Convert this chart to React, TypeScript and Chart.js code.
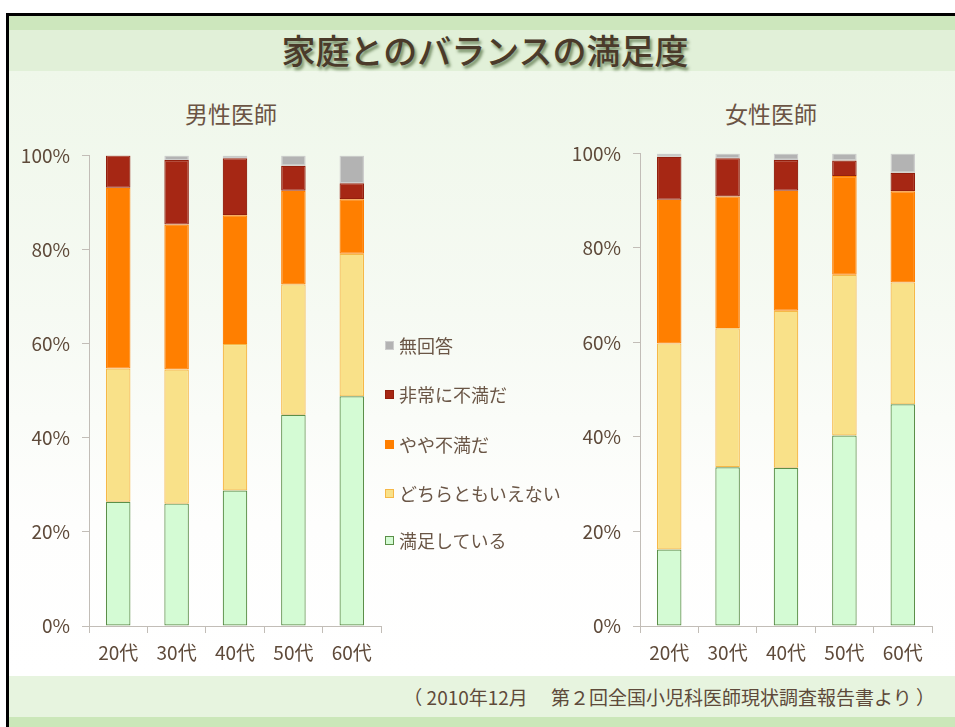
import React, { useEffect, useRef } from "react";
import { Chart, registerables } from "chart.js";

Chart.register(...registerables);

const ageLabels = ["20代", "30代", "40代", "50代", "60代"];
const seriesNames = ["満足している", "どちらともいえない", "やや不満だ", "非常に不満だ", "無回答"];
const yTickValues = [0, 20, 40, 60, 80, 100];

const maleSatisfied = [26.4, 26.0, 28.8, 44.9, 48.8];
const maleNeutral = [28.3, 28.5, 31.1, 27.7, 30.3];
const maleSomewhat = [38.4, 30.8, 27.4, 19.9, 11.6];
const maleVery = [6.9, 13.7, 12.1, 5.3, 3.4];
const maleNoAnswer = [0, 1.0, 0.6, 2.2, 5.9];

const femaleSatisfied = [16.2, 33.6, 33.5, 40.3, 46.9];
const femaleNeutral = [43.6, 29.4, 33.2, 34.0, 25.8];
const femaleSomewhat = [30.4, 27.9, 25.4, 20.9, 19.3];
const femaleVery = [9.1, 8.1, 6.5, 3.3, 3.9];
const femaleNoAnswer = [0.7, 1.0, 1.4, 1.5, 4.1];

const fills = ["#d4fbd4", "#f9e189", "#ff7f00", "#a62714", "#b3b3b3"];
const borders = ["#5b8f48", "#f6b847", "#ff7f00", "#931f0d", "#cdcdcd"];

const FONT = "'Noto Sans CJK JP', 'Noto Sans', sans-serif";
const TEXT = "#5e4a3a";
const AXIS = "#c2bdb7";

type ChartProps = {
  left: number;
  top: number;
  width: number;
  height: number;
  yWidth: number;
  xHeight: number;
  padTop: number;
  padRight: number;
  series: number[][];
};

function StackedChart(props: ChartProps) {
  const ref = useRef<HTMLCanvasElement | null>(null);
  useEffect(() => {
    if (!ref.current) return;
    const chart = new Chart(ref.current, {
      type: "bar",
      data: {
        labels: ageLabels,
        datasets: props.series.map((vals, i) => ({
          label: seriesNames[i],
          data: vals,
          backgroundColor: fills[i],
          borderColor: borders[i],
          borderWidth: 1.2,
          borderSkipped: false,
          categoryPercentage: 1,
          barPercentage: 0.42,
        })),
      },
      options: {
        animation: false,
        responsive: false,
        devicePixelRatio: 1,
        layout: { padding: { top: props.padTop, right: props.padRight, left: 0, bottom: 0 } },
        plugins: { legend: { display: false }, tooltip: { enabled: false } },
        scales: {
          x: {
            stacked: true,
            grid: { display: true, drawOnChartArea: false, drawTicks: true, tickLength: 7, color: AXIS, offset: true },
            border: { display: true, color: AXIS, width: 1 },
            ticks: { color: TEXT, font: { family: FONT, size: 19 }, padding: 8, maxRotation: 0 },
            afterFit: (s: any) => {
              s.height = props.xHeight;
            },
          },
          y: {
            stacked: true,
            min: 0,
            max: 100,
            grid: { display: true, drawOnChartArea: false, drawTicks: true, tickLength: 7, color: AXIS },
            border: { display: true, color: AXIS, width: 1 },
            afterBuildTicks: (s: any) => {
              s.ticks = yTickValues.map((v) => ({ value: v }));
            },
            ticks: {
              color: TEXT,
              font: { family: FONT, size: 19 },
              padding: 12,
              callback: (v: any) => v + "%",
            },
            afterFit: (s: any) => {
              s.width = props.yWidth;
            },
          },
        },
      },
    });
    return () => chart.destroy();
  }, []);
  return (
    <canvas
      ref={ref}
      width={props.width}
      height={props.height}
      style={{ position: "absolute", left: props.left, top: props.top, width: props.width, height: props.height }}
    />
  );
}

const legendTops = [345, 394, 444, 493, 540];

export default function App() {
  const legendOrder = [4, 3, 2, 1, 0];
  return (
    <div style={{ position: "absolute", left: 0, top: 0, width: 955, height: 727, overflow: "hidden", background: "#ffffff", fontFamily: FONT }}>
      <div style={{ position: "absolute", left: 6, top: 13, width: 960, height: 720, borderLeft: "3px solid #000", borderTop: "3px solid #000", boxSizing: "border-box" }} />
      <div style={{ position: "absolute", left: 9, top: 16, width: 960, height: 14, background: "#cde7bd" }} />
      <div style={{ position: "absolute", left: 9, top: 30, width: 960, height: 41, background: "#e1f0d8" }} />
      <div style={{ position: "absolute", left: 9, top: 71, width: 960, height: 605, background: "linear-gradient(to bottom, #eff7ea 0%, #f6faf3 40%, #fefefd 75%, #ffffff 100%)" }} />
      <div style={{ position: "absolute", left: 9, top: 676, width: 960, height: 41, background: "#e7f4df" }} />
      <div style={{ position: "absolute", left: 9, top: 717, width: 960, height: 10, background: "#cbe7b9" }} />

      <div style={{ position: "absolute", left: 0, top: 31, width: 970, textAlign: "center", fontSize: 34, lineHeight: "38px", fontWeight: 500, color: "#4a3a2a", textShadow: "2px 3px 3px rgba(50,80,30,0.6)" }}>
        家庭とのバランスの満足度
      </div>

      <div style={{ position: "absolute", left: 185, top: 100, fontSize: 23, lineHeight: "26px", color: "#6b5444" }}>男性医師</div>
      <div style={{ position: "absolute", left: 725, top: 100, fontSize: 23, lineHeight: "26px", color: "#6b5444" }}>女性医師</div>

      <StackedChart left={8} top={132} width={379} height={548} yWidth={81} xHeight={54} padTop={0} padRight={6}
        series={[maleSatisfied, maleNeutral, maleSomewhat, maleVery, maleNoAnswer]} />
      <StackedChart left={560} top={130} width={378} height={550} yWidth={80} xHeight={54} padTop={0} padRight={6}
        series={[femaleSatisfied, femaleNeutral, femaleSomewhat, femaleVery, femaleNoAnswer]} />

      {legendOrder.map((si, k) => (
        <div key={si} style={{ position: "absolute", left: 385, top: legendTops[k] - 12, height: 24, display: "flex", alignItems: "center" }}>
          <div style={{ width: 7, height: 7, background: fills[si], border: "1px solid " + borders[si], marginRight: 5 }} />
          <div style={{ fontSize: 18, lineHeight: "24px", color: "#6a5646", whiteSpace: "nowrap" }}>{seriesNames[si]}</div>
        </div>
      ))}

      <div style={{ position: "absolute", right: 20, top: 683, fontSize: 19, lineHeight: "28px", color: "#5e4a3a", whiteSpace: "nowrap" }}>
        （ 2010年12月　 第２回全国小児科医師現状調査報告書より ）
      </div>
    </div>
  );
}
